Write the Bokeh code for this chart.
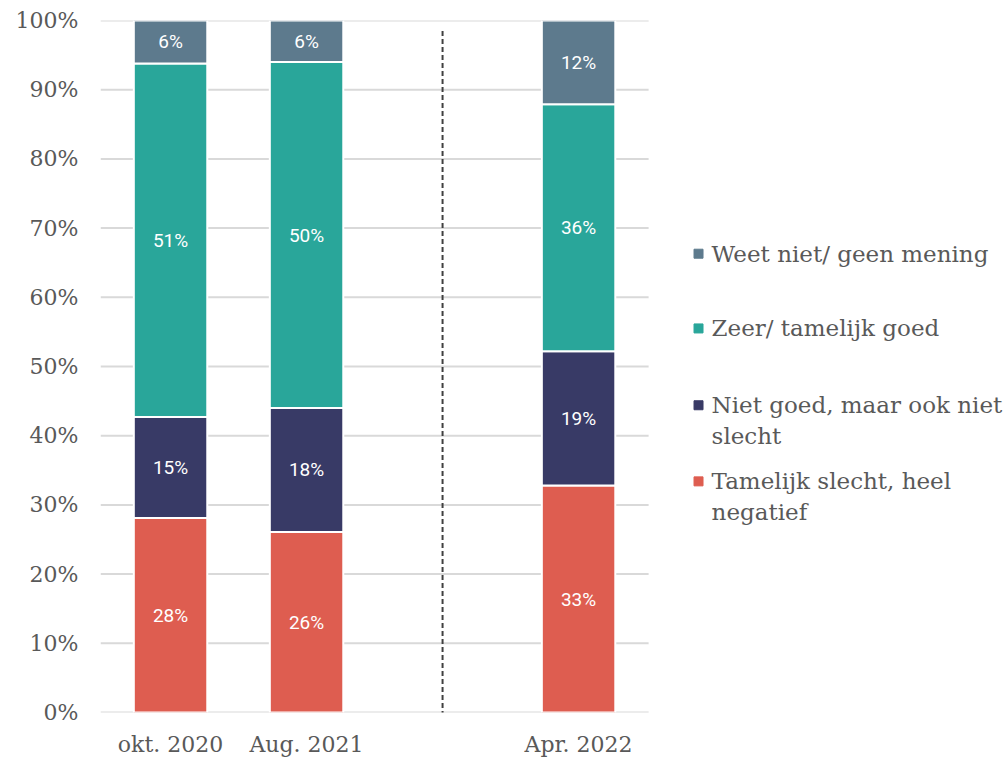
from bokeh.plotting import figure
from bokeh.models import ColumnDataSource, FixedTicker, PrintfTickFormatter
from bokeh.core.properties import value
from bokeh.embed import file_html
from bokeh.resources import INLINE

# ---- data ----
categories = ["okt. 2020", "Aug. 2021", "Apr. 2022"]
x_pos = [0, 1, 3]
slecht = [28.1, 26.1, 32.8]      # Tamelijk slecht, heel negatief
neutraal = [14.6, 17.9, 19.4]    # Niet goed, maar ook niet slecht
goed = [51.1, 50.0, 35.7]        # Zeer/ tamelijk goed
weetniet = [6.2, 6.0, 12.1]      # Weet niet/ geen mening
series_names = ["slecht", "neutraal", "goed", "weetniet"]
legend_labels = ["Tamelijk slecht, heel\nnegatief", "Niet goed, maar ook niet\nslecht",
                 "Zeer/ tamelijk goed", "Weet niet/ geen mening"]
colors = ["#DE5D50", "#383A66", "#29A69A", "#5D7A8D"]
y_ticks = [0, 10, 20, 30, 40, 50, 60, 70, 80, 90, 100]

SERIF = "DejaVu Serif"
SANS = "Roboto"
GRAY = "#595959"

src = ColumnDataSource(dict(x=x_pos, slecht=slecht, neutraal=neutraal, goed=goed, weetniet=weetniet))

p = figure(width=1005, height=759, x_range=(-0.515, 6.139), y_range=(0, 100),
           output_backend="svg", toolbar_location=None,
           min_border_left=100, min_border_right=0, min_border_top=20, min_border_bottom=47)
p.outline_line_color = None
p.xgrid.visible = False
p.ygrid.visible = False

# manual gridlines limited to the bar area
p.segment(x0=[-0.515] * len(y_ticks), x1=[3.515] * len(y_ticks), y0=y_ticks, y1=y_ticks,
          line_color="#D9D9D9", line_width=2)

# separator
p.segment(x0=[2], x1=[2], y0=[-0.5], y1=[98.8], line_color="#404040", line_width=2, line_dash="5 3")

p.vbar_stack(series_names, x="x", width=0.54, source=src, color=colors,
             line_color="white", line_width=2)

# value labels
lx, ly, lt = [], [], []
base = [0.0] * len(categories)
for s in [slecht, neutraal, goed, weetniet]:
    for i, v in enumerate(s):
        lx.append(x_pos[i]); ly.append(base[i] + v / 2); lt.append(f"{round(v):d}%")
        base[i] += v
p.text(x=lx, y=ly, text=lt, text_color="white", text_font=value(SANS), text_font_size="19px",
       text_align="center", text_baseline="middle")

# legend (manual): markers beside first line, text blocks centred
mark_y = [33.4, 44.4, 55.5, 66.3]
text_y = [31.2, 42.2, 55.5, 66.3]
p.scatter(x=[3.882] * 4, y=mark_y, marker="square", size=9, color=colors)
p.text(x=[3.978] * 4, y=text_y, text=legend_labels, text_color=GRAY, text_font=value(SERIF),
       text_font_size="23px", text_align="left", text_baseline="middle", text_line_height=1.2)

# axes
p.yaxis.ticker = FixedTicker(ticks=y_ticks)
p.yaxis.formatter = PrintfTickFormatter(format="%d%%")
p.yaxis.axis_line_color = None
p.yaxis.major_tick_line_color = None
p.yaxis.minor_tick_line_color = None
p.yaxis.major_label_standoff = 16
p.yaxis.major_label_text_font = SERIF
p.yaxis.major_label_text_font_size = "22px"
p.yaxis.major_label_text_color = GRAY

p.xaxis.ticker = FixedTicker(ticks=x_pos)
p.xaxis.major_label_overrides = {x: c for x, c in zip(x_pos, categories)}
p.xaxis.axis_line_color = None
p.xaxis.major_tick_line_color = None
p.xaxis.minor_tick_line_color = None
p.xaxis.major_label_standoff = 13
p.xaxis.major_label_text_font = SERIF
p.xaxis.major_label_text_font_size = "22px"
p.xaxis.major_label_text_color = GRAY

open("out.html", "w").write(file_html(p, INLINE))
